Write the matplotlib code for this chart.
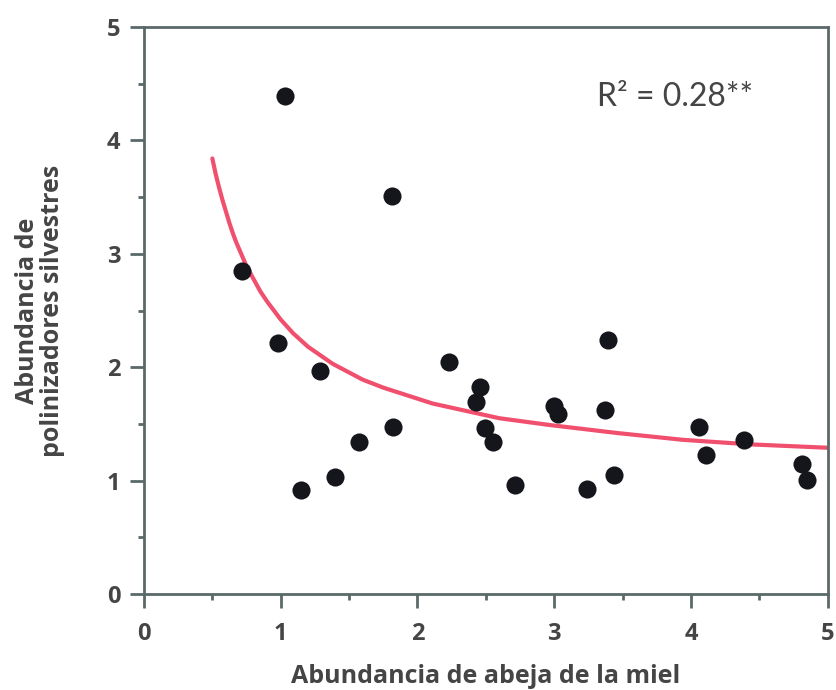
import numpy as np
import matplotlib.pyplot as plt
from matplotlib.ticker import MultipleLocator

plt.rcParams['font.family'] = ['Open Sans', 'DejaVu Sans']

# scatter points
bee_x = [1.03, 1.81, 0.72, 0.98, 1.29, 2.23, 3.39, 2.46, 2.43, 1.82, 1.57, 2.49, 2.55,
         3.00, 3.03, 3.37, 1.15, 1.40, 2.71, 3.24, 3.44, 4.06, 4.11, 4.39, 4.81, 4.85]
wild_y = [4.39, 3.51, 2.85, 2.21, 1.97, 2.05, 2.24, 1.83, 1.69, 1.47, 1.34, 1.46, 1.34,
          1.66, 1.59, 1.62, 0.92, 1.03, 0.96, 0.93, 1.05, 1.47, 1.23, 1.36, 1.15, 1.01]

# fitted curve, points
fit_x = [0.50, 0.525, 0.55, 0.575, 0.60, 0.625, 0.65, 0.675, 0.70, 0.75, 0.80, 0.85, 0.90,
         1.00, 1.09, 1.20, 1.38, 1.60, 1.75, 2.11, 2.60, 2.97, 3.46, 3.94, 4.43, 5.00]
fit_y = [3.84, 3.70, 3.58, 3.47, 3.37, 3.27, 3.18, 3.10, 3.03, 2.89, 2.78, 2.67, 2.58,
         2.42, 2.30, 2.18, 2.03, 1.89, 1.82, 1.68, 1.55, 1.49, 1.42, 1.36, 1.32, 1.29]

spine_col = '#5b6969'
text_col = '#454545'

fig = plt.figure(figsize=(8.37, 6.90), dpi=100)
ax = fig.add_axes([0.172, 0.139, 0.817, 0.822])

ax.plot(fit_x, fit_y, color='#f0506e', linewidth=3, zorder=2,
        solid_capstyle='round', solid_joinstyle='round')
ax.scatter(bee_x, wild_y, s=170, color='#15151c', zorder=3, linewidths=0)

ax.set_xlim(0, 5)
ax.set_ylim(0, 5)
ax.xaxis.set_major_locator(MultipleLocator(1))
ax.yaxis.set_major_locator(MultipleLocator(1))
ax.xaxis.set_minor_locator(MultipleLocator(0.5))
ax.yaxis.set_minor_locator(MultipleLocator(0.5))

for s in ax.spines.values():
    s.set_color(spine_col)
    s.set_linewidth(2)

ax.tick_params(which='major', length=10, width=2, color=spine_col, pad=7,
               labelsize=17, labelcolor=text_col)
ax.tick_params(axis='x', which='major', pad=10)
ax.tick_params(which='minor', length=4, width=2, color=spine_col)
for lab in ax.get_xticklabels() + ax.get_yticklabels():
    lab.set_fontweight('bold')

ax.set_xlabel('Abundancia de abeja de la miel', fontsize=18, fontweight='bold',
              color=text_col, labelpad=13)
ax.set_ylabel('Abundancia de\npolinizadores silvestres', fontsize=18, fontweight='bold',
              color=text_col, labelpad=30, linespacing=1.0)

ax.text(3.88, 4.38, 'R² = 0.28**', fontsize=23, color=text_col, ha='center', va='center',
        family=['Lato', 'DejaVu Sans'])

plt.savefig('out.png', dpi=100)
